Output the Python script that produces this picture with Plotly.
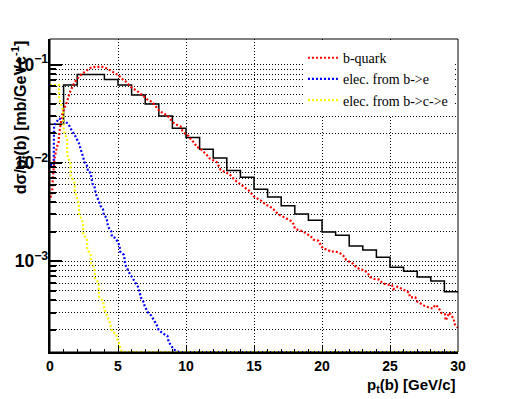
import plotly.graph_objects as go

# ---------------- data ----------------
black_edges = list(range(0, 31))
black_vals = [0.0247, 0.062, 0.0795, 0.0795, 0.0708, 0.062, 0.049, 0.0397, 0.030, 0.0225,
              0.0182, 0.0138, 0.0112, 0.00836, 0.00716, 0.0054, 0.0045, 0.00366, 0.00303, 0.00262,
              0.00198, 0.00184, 0.00143, 0.0013, 0.0011, 0.00087, 0.00079, 0.00069, 0.00063, 0.00049]

red_x = [0.0, 0.15, 0.2, 0.27, 0.35, 0.5, 0.62, 0.7, 0.9, 1.05, 1.25, 1.45, 1.6, 1.81, 2.13, 2.38,
         2.74, 3.04, 3.4, 3.85, 4.17, 4.46, 4.75, 5.05, 5.24, 5.54, 5.81, 6.08, 6.4, 6.72, 6.99,
         7.21, 7.5, 7.79, 8.09, 8.38, 8.63, 8.87, 9.07, 9.31, 9.61, 9.73, 9.95, 10.2, 10.39, 10.61,
         10.78, 11.08, 11.32, 11.52, 11.72, 11.96, 12.26, 12.55, 12.79, 13.19, 13.6, 13.92, 14.21,
         14.65, 15.0, 15.27, 15.56, 15.88, 16.18, 16.47, 16.79, 17.11, 17.4, 17.7, 17.9, 18.01,
         18.31, 18.63, 18.87, 19.17, 19.36, 19.73, 19.9, 20.05, 20.39, 20.66, 20.98, 21.32, 21.57,
         21.76, 22.01, 22.3, 22.5, 22.79, 23.11, 23.36, 23.53, 23.85, 24.21, 24.43, 24.76, 25.15,
         25.25, 25.54, 25.81, 26.1, 26.4, 26.47, 26.86, 27.0, 27.25, 27.57, 27.84, 28.14, 28.33,
         28.56, 28.75, 29.04, 29.1, 29.36, 29.68, 29.75, 30.0]
red_y = [0.0045, 0.0046, 0.0068, 0.0095, 0.0115, 0.0145, 0.016, 0.021, 0.031, 0.036, 0.042, 0.052,
         0.058, 0.0664, 0.0752, 0.0813, 0.088, 0.0937, 0.095, 0.095, 0.0915, 0.0865, 0.0826, 0.078,
         0.0724, 0.068, 0.062, 0.0573, 0.0542, 0.0498, 0.0464, 0.0436, 0.0419, 0.0373, 0.0332,
         0.0319, 0.0302, 0.0278, 0.0257, 0.0245, 0.0234, 0.0213, 0.0197, 0.0188, 0.0171, 0.0161,
         0.0146, 0.0139, 0.013, 0.0121, 0.0112, 0.0107, 0.0102, 0.0085, 0.0082, 0.0077, 0.0067,
         0.0062, 0.00567, 0.0052, 0.00455, 0.0043, 0.0041, 0.00375, 0.0036, 0.00333, 0.003,
         0.00285, 0.0027, 0.00258, 0.0024, 0.00215, 0.00207, 0.002, 0.0019, 0.0018, 0.00166,
         0.00162, 0.00147, 0.00136, 0.00131, 0.00125, 0.00126, 0.00121, 0.00114, 0.00104, 0.00099,
         0.00094, 0.00087, 0.00083, 0.00081, 0.00076, 0.00069, 0.00066, 0.00065, 0.0006, 0.00058,
         0.00057, 0.00052, 0.00055, 0.00053, 0.0005, 0.00048, 0.00043, 0.00043, 0.00039, 0.00037,
         0.00035, 0.00034, 0.00033, 0.00036, 0.00034, 0.0003, 0.00029, 0.00025, 0.0003, 0.00026,
         0.00023, 0.00021]

blue_x = [0.0, 0.27, 0.3, 0.5, 0.66, 0.96, 1.2, 1.35, 1.64, 1.86, 2.13, 2.3, 2.43, 2.55, 2.72, 2.8,
          2.99, 3.11, 3.28, 3.36, 3.6, 3.72, 3.9, 3.95, 4.17, 4.21, 4.34, 4.51, 4.55, 4.83, 5.12,
          5.15, 5.44, 5.47, 5.54, 5.81, 5.98, 6.3, 6.47, 6.6, 6.67, 6.91, 6.96, 7.21, 7.45, 7.65,
          7.82, 7.99, 8.31, 8.63, 8.73, 8.92, 9.04, 9.29, 9.5, 30.0]
blue_y = [0.0095, 0.0095, 0.024, 0.026, 0.0284, 0.027, 0.0255, 0.025, 0.0208, 0.0188, 0.0158,
          0.0135, 0.0115, 0.0101, 0.0094, 0.0082, 0.0079, 0.0062, 0.00566, 0.0049, 0.00414,
          0.00366, 0.00339, 0.00297, 0.00275, 0.00244, 0.00217, 0.00201, 0.00179, 0.00172,
          0.00144, 0.00126, 0.00116, 0.00104, 0.00092, 0.00077, 0.0007, 0.00059, 0.00055, 0.00048,
          0.00043, 0.00038, 0.00035, 0.0003, 0.00028, 0.00025, 0.00023, 0.0002, 0.000184,
          0.000175, 0.00015, 0.000139, 0.000129, 0.000122, 0.0, 0.0]

yellow_x = [0.0, 0.65, 0.68, 0.96, 1.0, 1.25, 1.27, 1.5, 1.52, 1.81, 1.83, 2.11, 2.13, 2.43, 2.45,
            2.72, 2.74, 2.99, 3.01, 3.28, 3.3, 3.58, 3.6, 3.9, 4.02, 4.21, 4.39, 4.56, 4.88, 4.9,
            5.05, 5.12, 5.25, 5.5, 30.0]
yellow_y = [0.062, 0.062, 0.045, 0.0345, 0.0216, 0.0171, 0.012, 0.0100, 0.0075, 0.0062, 0.0051,
            0.0039, 0.0031, 0.00244, 0.00189, 0.00165, 0.00134, 0.00116, 0.00096, 0.00085,
            0.00068, 0.0006, 0.00044, 0.00039, 0.00032, 0.000275, 0.00024, 0.000194, 0.00018,
            0.000166, 0.00015, 0.000136, 0.000122, 0.0, 0.0]

series_names = ["b-quark", "elec. from b->e", "elec. from b->c->e"]
x_title = "p<sub>t</sub>(b) [GeV/c]"
y_title = "d\u03c3/p<sub>t</sub>(b) [mb/GeVc<sup>-1</sup>]"

# ---------------- figure ----------------
yrange = [-3.923, -0.739]
floor = 10 ** yrange[0]


def on_log(vals):
    # empty bins are drawn on the bottom of the frame, as ROOT does
    return [v if v > 0 else floor for v in vals]


fig = go.Figure()
fig.add_trace(go.Scatter(x=black_edges, y=black_vals + [black_vals[-1]], mode="lines",
                         line=dict(color="black", width=1.5, shape="hv"), showlegend=False))
dots = "2px,2px"
fig.add_trace(go.Scatter(x=red_x, y=on_log(red_y), mode="lines", name=series_names[0],
                         line=dict(color="#ff0000", width=2.2, dash=dots)))
fig.add_trace(go.Scatter(x=blue_x, y=on_log(blue_y), mode="lines", name=series_names[1],
                         line=dict(color="#0000ff", width=2.2, dash=dots)))
fig.add_trace(go.Scatter(x=yellow_x, y=on_log(yellow_y), mode="lines", name=series_names[2],
                         line=dict(color="#ffff00", width=2.2, dash=dots)))

tickfont = dict(family="Liberation Sans", size=14, color="black", weight="bold")
fig.update_layout(
    width=509, height=399,
    margin=dict(l=42, r=59, t=31, b=55, autoexpand=False),
    paper_bgcolor="white", plot_bgcolor="white",
    showlegend=True,
    legend=dict(x=0.62, y=0.99, xanchor="left", yanchor="top", bgcolor="white",
                borderwidth=0, font=dict(family="Liberation Serif", size=14, color="black"),
                itemwidth=30, tracegroupgap=0),
    xaxis=dict(range=[0, 30], dtick=5, tick0=0, ticks="inside", ticklen=6, tickwidth=1,
               tickcolor="black", showline=True, linewidth=2, linecolor="black",
               showgrid=True, gridcolor="black", gridwidth=1, griddash="1px,2px",
               zeroline=False, tickfont=tickfont, automargin=False,
               minor=dict(dtick=1, ticks="inside", ticklen=3, tickcolor="black", showgrid=False)),
    yaxis=dict(type="log", range=yrange, dtick=1, ticks="inside", ticklen=12, tickwidth=2,
               tickcolor="black", showline=True, linewidth=2, linecolor="black",
               showgrid=True, gridcolor="black", gridwidth=1, griddash="1px,2px",
               exponentformat="power", zeroline=False, tickfont=tickfont,
               ticklabelstandoff=-3, automargin=False,
               minor=dict(dtick="D1", ticks="inside", ticklen=6, tickwidth=2, tickcolor="black",
                          showgrid=True, gridcolor="black", gridwidth=1, griddash="1px,2px")),
    shapes=[dict(type="rect", xref="paper", yref="paper", x0=0, y0=0, x1=1, y1=1,
                 line=dict(color="black", width=1), layer="above")],
    annotations=[
        dict(text=x_title, xref="paper", yref="paper", x=1.0, y=-0.07, xanchor="right",
             yanchor="top", showarrow=False,
             font=dict(family="Liberation Sans", size=15, color="black", weight="bold")),
        dict(text=y_title, xref="paper", yref="paper", x=-0.073, y=1.003, xanchor="center",
             yanchor="top", textangle=-90, showarrow=False,
             font=dict(family="Liberation Sans", size=16, color="black", weight="bold")),
    ],
)

fig.write_html("out.html")
